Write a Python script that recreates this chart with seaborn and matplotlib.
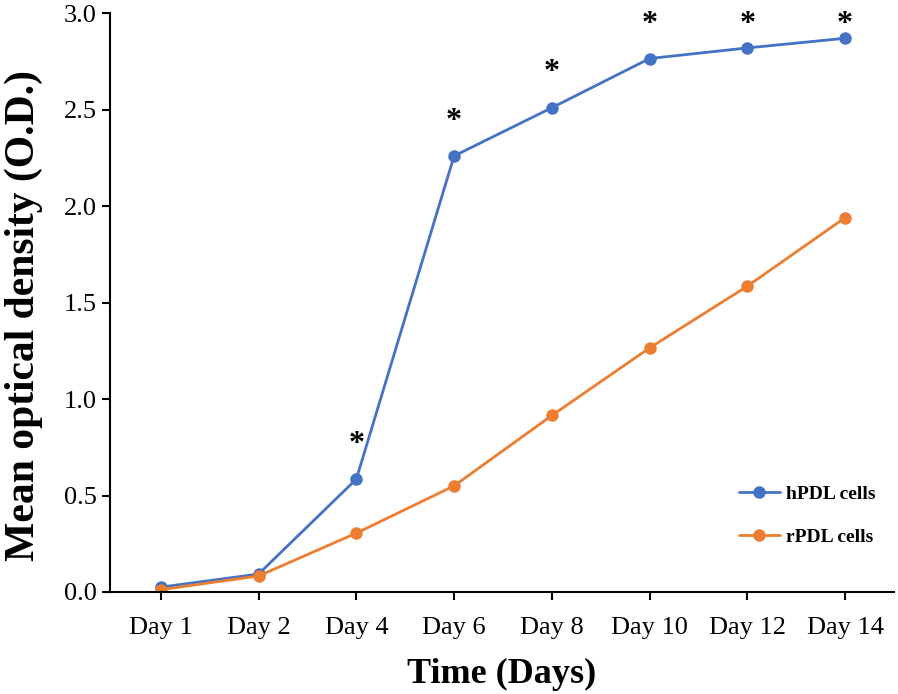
import pandas as pd
import matplotlib.pyplot as plt
import seaborn as sns


# Dane
days = ["Day 1", "Day 2", "Day 4", "Day 6", "Day 8", "Day 10", "Day 12", "Day 14"]
hpdl = [0.025, 0.093, 0.585, 2.26, 2.51, 2.765, 2.82, 2.87]
rpdl = [0.012, 0.083, 0.305, 0.55, 0.915, 1.265, 1.585, 1.94]
significant = [False, False, True, True, True, True, True, True]

df = pd.DataFrame({
    "Day": days * 2,
    "OD": hpdl + rpdl,
    "Cells": ["hPDL cells"] * len(days) + ["rPDL cells"] * len(days),
})

sns.set_style("ticks")
plt.rcParams["font.family"] = ["Liberation Serif", "DejaVu Serif"]
plt.rcParams["text.color"] = "black"
plt.rcParams["axes.labelcolor"] = "black"
plt.rcParams["xtick.color"] = "black"
plt.rcParams["ytick.color"] = "black"

fig = plt.figure(figsize=(8.98, 6.94), dpi=100)
ax = fig.add_axes([0.1225, 0.147, 0.873, 0.834])

sns.lineplot(data=df, x="Day", y="OD", hue="Cells", sort=False,
             palette={"hPDL cells": "#4472C4", "rPDL cells": "#ED7D31"},
             marker="o", markersize=9, markeredgewidth=0, linewidth=2,
             ax=ax)

# Gwiazdki istotności nad hPDL
for i, v in enumerate(hpdl):
    if significant[i]:
        ax.text(i, min(v + 0.18, 2.94), "*", ha="center", va="center",
                fontsize=23, fontweight="bold")

ax.set_xlim(-0.52, 7.5)
ax.set_ylim(0, 3.0)
ax.set_yticks([0, 0.5, 1.0, 1.5, 2.0, 2.5, 3.0])
ax.set_yticklabels(["0.0", "0.5", "1.0", "1.5", "2.0", "2.5", "3.0"])
ax.tick_params(axis="both", labelsize=19, width=1.5, length=6, color="black")
ax.tick_params(axis="x", pad=12)
ax.set_xlabel("Time (Days)", fontsize=26, fontweight="bold", labelpad=14)
ax.set_ylabel("Mean optical density (O.D.)", fontsize=30, fontweight="bold")
ax.yaxis.set_label_coords(-0.086, 0.477)
sns.despine(ax=ax)
for s in ["left", "bottom"]:
    ax.spines[s].set_linewidth(1.5)
    ax.spines[s].set_color("black")

ax.legend(loc="upper left", bbox_to_anchor=(0.78, 0.215), frameon=False,
          prop={"weight": "bold", "size": 14}, labelspacing=1.3,
          handlelength=2.1, handletextpad=0.3, title=None)

plt.savefig("out.png", dpi=100)
